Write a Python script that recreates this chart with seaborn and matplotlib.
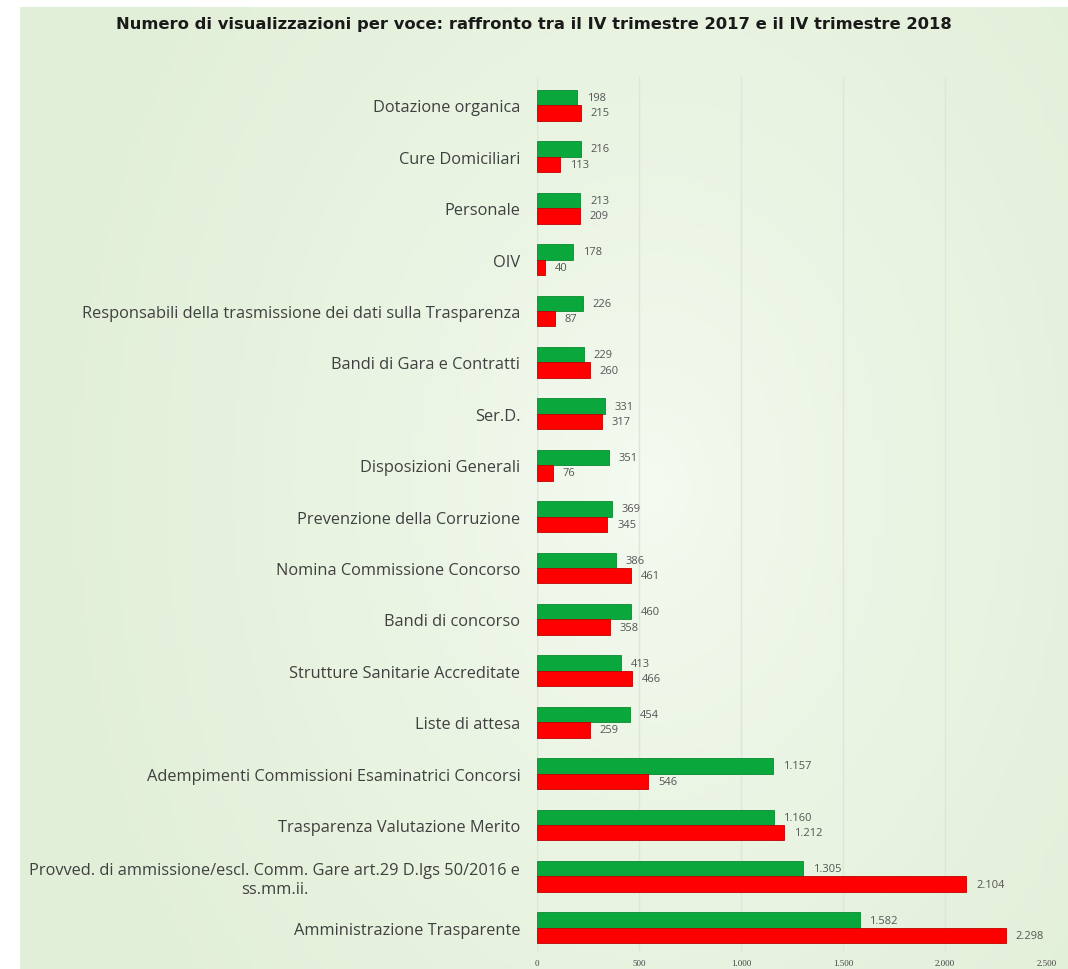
import numpy as np
import pandas as pd
import matplotlib.pyplot as plt
import seaborn as sns

categories = [
    "Dotazione organica",
    "Cure Domiciliari",
    "Personale",
    "OIV",
    "Responsabili della trasmissione dei dati sulla Trasparenza",
    "Bandi di Gara e Contratti",
    "Ser.D.",
    "Disposizioni Generali",
    "Prevenzione della Corruzione",
    "Nomina Commissione Concorso",
    "Bandi di concorso",
    "Strutture Sanitarie Accreditate",
    "Liste di attesa",
    "Adempimenti Commissioni Esaminatrici Concorsi",
    "Trasparenza Valutazione Merito",
    "Provved. di ammissione/escl. Comm. Gare art.29 D.lgs 50/2016 e\nss.mm.ii.",
    "Amministrazione Trasparente",
]
views_2017 = [198, 216, 213, 178, 226, 229, 331, 351, 369, 386, 460, 413, 454, 1157, 1160, 1305, 1582]
views_2018 = [215, 113, 209, 40, 87, 260, 317, 76, 345, 461, 358, 466, 259, 546, 1212, 2104, 2298]
periods = ["IV trimestre 2017", "IV trimestre 2018"]
x_ticks = [0, 500, 1000, 1500, 2000, 2500]

df = pd.DataFrame({
    "voce": categories * 2,
    "periodo": [periods[0]] * len(categories) + [periods[1]] * len(categories),
    "visualizzazioni": views_2017 + views_2018,
})

sns.set_style("white")
plt.rcParams["font.family"] = ["Open Sans", "DejaVu Sans"]

fig = plt.figure(figsize=(10.68, 9.7), dpi=100)

# light green background with a paler centre
bg = fig.add_axes([20 / 1068, 0, 1 - 20 / 1068, 1 - 8 / 970])
yy, xx = np.mgrid[0:1:200j, 0:1:200j]
d = np.sqrt(((xx - 0.6) / 0.55) ** 2 + ((yy - 0.5) / 0.8) ** 2)
d = np.clip(d, 0, 1) ** 0.7
c_in = np.array([0.96, 0.985, 0.95])
c_out = np.array([0.89, 0.94, 0.85])
img = c_in[None, None, :] * (1 - d[..., None]) + c_out[None, None, :] * d[..., None]
bg.imshow(img, aspect="auto", extent=[0, 1, 0, 1])
bg.set_axis_off()

ax = fig.add_axes([537 / 1068, 1 - 952 / 970, 510 / 1068, (952 - 78) / 970])
ax.patch.set_alpha(0)

sns.barplot(data=df, y="voce", x="visualizzazioni", hue="periodo",
            hue_order=periods, palette=["#0aa83c", "#ff0000"], saturation=1,
            orient="h", width=0.6, gap=0, ax=ax, legend=False,
            edgecolor="#c00000", linewidth=0.6)
for bar in ax.containers[0]:
    bar.set_edgecolor("#0b8a30")

for cont in ax.containers:
    ax.bar_label(cont, labels=[f"{int(v):,}".replace(",", ".") for v in cont.datavalues],
                 padding=7, fontsize=8, color="#555555")

ax.set_xlim(0, 2500)
ax.set_ylim(16.45, -0.55)
ax.set_xticks(x_ticks)
ax.set_xticklabels([f"{t:,}".replace(",", ".") for t in x_ticks], fontsize=6.5, color="#444444",
                   family=["Liberation Serif", "DejaVu Serif"])
ax.tick_params(axis="x", length=0, pad=6)
ax.tick_params(axis="y", length=0, pad=12)
ax.grid(axis="x", color="#dfe4dc", linewidth=1)
ax.set_axisbelow(True)
for lbl in ax.get_yticklabels():
    lbl.set_fontsize(11.8)
    lbl.set_color("#404040")
    lbl.set_multialignment("center")
for s in ax.spines.values():
    s.set_visible(False)
ax.axvline(0, color="#dfe4dc", linewidth=1, zorder=0)
ax.set_xlabel("")
ax.set_ylabel("")

fig.text(0.5, 1 - 25 / 970, "Numero di visualizzazioni per voce: raffronto tra il IV trimestre 2017 e il IV trimestre 2018",
         ha="center", va="center", fontsize=11.8, fontweight="bold", color="#1a1a1a",
         family=["DejaVu Sans Condensed", "DejaVu Sans"])

fig.savefig("out.png", dpi=100)
